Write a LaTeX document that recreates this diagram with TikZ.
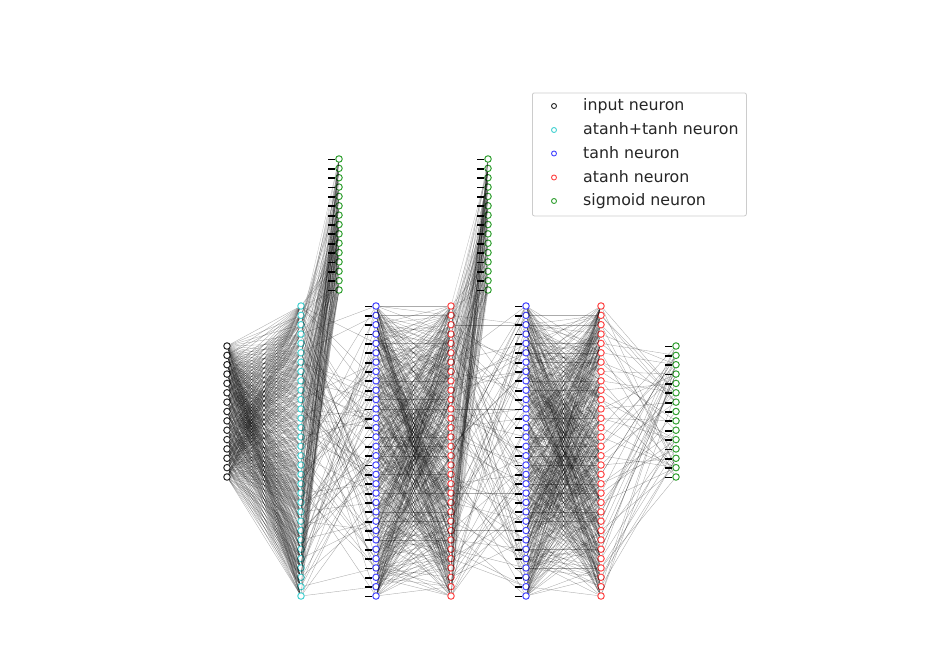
\documentclass[tikz,border=0pt]{standalone}
\usepackage{fontspec}
\setmainfont{DejaVu Sans}
\definecolor{cin}{RGB}{40,40,40}
\definecolor{ccy}{RGB}{70,210,210}
\definecolor{cbl}{RGB}{70,70,255}
\definecolor{cre}{RGB}{255,70,70}
\definecolor{cgr}{RGB}{50,160,50}
\begin{document}
\begin{tikzpicture}[x=1pt,y=-1pt,
  neuron/.style={circle,inner sep=0pt,minimum size=6.5pt,line width=1pt,fill=white},
  lmark/.style={circle,inner sep=0pt,minimum size=5pt,line width=0.9pt,fill=white},
  ltext/.style={inner sep=0pt,anchor=base west,text=black!85,font=\fontsize{15.8}{19}\selectfont},
  edge/.style={draw=black,line width=0.35pt,opacity=0.33},
  biasbar/.style={draw=black,line width=1.8pt}]
\useasboundingbox (0,0) rectangle (943,667);
\pgfmathsetseed{4242}
% layers
\foreach \i in {1,...,15} \node[neuron,draw=cin] (in\i) at (227,{346+(\i-1)*131/14}) {};
\foreach \i in {1,...,32} \node[neuron,draw=ccy] (cy\i) at (301,{306+(\i-1)*290/31}) {};
\foreach \i in {1,...,15} \node[neuron,draw=cgr] (ga\i) at (339,{159+(\i-1)*131/14}) {};
\foreach \i in {1,...,32} \node[neuron,draw=cbl] (ba\i) at (376,{306+(\i-1)*290/31}) {};
\foreach \i in {1,...,32} \node[neuron,draw=cre] (ra\i) at (451,{306+(\i-1)*290/31}) {};
\foreach \i in {1,...,15} \node[neuron,draw=cgr] (gb\i) at (488,{159+(\i-1)*131/14}) {};
\foreach \i in {1,...,32} \node[neuron,draw=cbl] (bb\i) at (526,{306+(\i-1)*290/31}) {};
\foreach \i in {1,...,32} \node[neuron,draw=cre] (rb\i) at (601,{306+(\i-1)*290/31}) {};
\foreach \i in {1,...,15} \node[neuron,draw=cgr] (out\i) at (676,{346+(\i-1)*131/14}) {};
% bias bars
\foreach \n in {ga,gb,out} \foreach \i in {1,...,15}
  \draw[biasbar] ([xshift=-11pt,yshift=-0.5pt]\n\i.center) -- ([xshift=-4pt,yshift=-0.5pt]\n\i.center);
\foreach \n in {ba,bb} \foreach \i in {1,...,32}
  \draw[biasbar] ([xshift=-11pt,yshift=-0.5pt]\n\i.center) -- ([xshift=-4pt,yshift=-0.5pt]\n\i.center);
% dense connections
\foreach \i in {1,...,15} \foreach \j in {1,...,32}{
  \pgfmathtruncatemacro\ok{rnd<0.85}
  \ifnum\ok=1 \draw[edge] (in\i) -- (cy\j); \fi}
\foreach \i in {1,...,32} \foreach \j in {1,...,15}{
  \pgfmathtruncatemacro\ok{rnd<0.28}
  \ifnum\ok=1 \draw[edge,opacity=0.25] (cy\i) -- (ga\j); \fi}
\foreach \i in {1,...,32} \foreach \j in {1,...,32}{
  \pgfmathtruncatemacro\ok{rnd<0.45}
  \ifnum\ok=1 \draw[edge] (ba\i) -- (ra\j); \fi}
\foreach \i in {1,...,32} \foreach \j in {1,...,15}{
  \pgfmathtruncatemacro\ok{rnd<0.28}
  \ifnum\ok=1 \draw[edge,opacity=0.25] (ra\i) -- (gb\j); \fi}
\foreach \i in {1,...,32} \foreach \j in {1,...,32}{
  \pgfmathtruncatemacro\ok{rnd<0.45}
  \ifnum\ok=1 \draw[edge] (bb\i) -- (rb\j); \fi}
% sparse connections
\foreach \i in {1,...,32} \foreach \k in {1,2,3}{
  \pgfmathrandominteger{\j}{1}{32}
  \draw[edge] (cy\i) -- (ba\j);}
\foreach \i in {1,...,32} \foreach \k in {1,2,3}{
  \pgfmathrandominteger{\j}{1}{32}
  \draw[edge] (ra\i) -- (bb\j);}
\foreach \i in {1,...,32} \foreach \k in {1,2}{
  \pgfmathrandominteger{\j}{1}{15}
  \draw[edge] (rb\i) -- (out\j);}
% legend
\node[draw=gray!40,fill=white,rounded corners=2pt,line width=0.8pt,
  minimum width=214pt,minimum height=123pt,anchor=north west,inner sep=0pt] (legend) at (532,92.5) {};
\node[lmark,draw=cin] (l1) at (554,106) {};
\node[lmark,draw=ccy] (l2) at (554,130) {};
\node[lmark,draw=cbl] (l3) at (554,153.5) {};
\node[lmark,draw=cre] (l4) at (554,177.5) {};
\node[lmark,draw=cgr] (l5) at (554,201) {};
\node[ltext] (t1) at (583,110.5) {input neuron};
\node[ltext] (t2) at (583,134.5) {atanh+tanh neuron};
\node[ltext] (t3) at (583,158) {tanh neuron};
\node[ltext] (t4) at (583,182) {atanh neuron};
\node[ltext] (t5) at (583,205.5) {sigmoid neuron};
\end{tikzpicture}
\end{document}
